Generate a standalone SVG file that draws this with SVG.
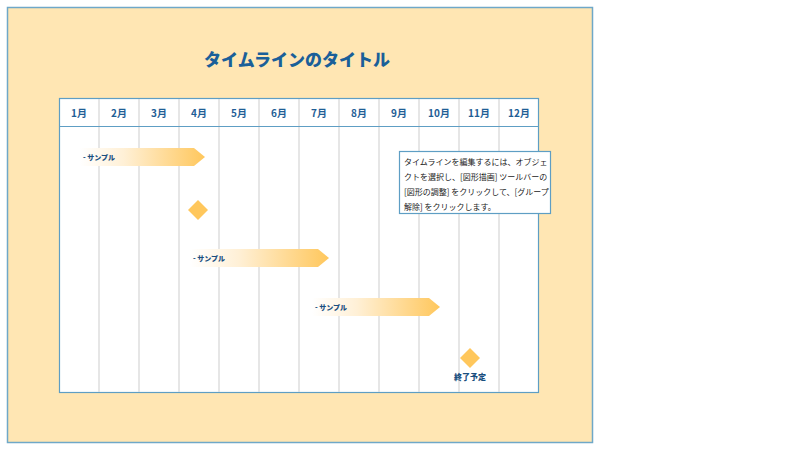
<svg xmlns="http://www.w3.org/2000/svg" width="796" height="450" viewBox="0 0 796 450">
<defs>
<linearGradient id="barg" x1="0" y1="0" x2="1" y2="0">
<stop offset="0" stop-color="#FFFFFF"/>
<stop offset="0.35" stop-color="#FFF0D6"/>
<stop offset="1" stop-color="#FFC75C"/>
</linearGradient>
<style>
.mon{font-family:"Noto Sans CJK JP","Liberation Sans",sans-serif;font-size:10px;font-weight:bold;fill:#1F5E96;text-anchor:middle}
.lbl{font-family:"Noto Sans CJK JP","Liberation Sans",sans-serif;font-size:7px;font-weight:900;fill:#1A4F80}
.grid{stroke:#D6D6D6;stroke-width:1.2}
.note{font-family:"Noto Sans CJK JP","Liberation Sans",sans-serif;font-size:8px;fill:#222222}
.dia{fill:#FFC75C}
</style>
</defs>
<rect width="796" height="450" fill="#FFFFFF"/>
<g id="background">
<rect x="7.5" y="7.5" width="585" height="435" fill="#FFE6B3" stroke="#6FA8C8" stroke-width="1.5"/>
</g>
<g id="title">
<text x="297" y="66" font-family="Noto Sans CJK JP,Liberation Sans,sans-serif" font-size="17" font-weight="900" fill="#1A5F99" text-anchor="middle">タイムラインのタイトル</text>
</g>
<g id="chart">
<rect x="59.5" y="98.5" width="479" height="294" fill="#FFFFFF" stroke="#5E9EC4" stroke-width="1.2"/>
<g class="grid">
<line x1="99" y1="99" x2="99" y2="392"/>
<line x1="139" y1="99" x2="139" y2="392"/>
<line x1="179" y1="99" x2="179" y2="392"/>
<line x1="219" y1="99" x2="219" y2="392"/>
<line x1="259" y1="99" x2="259" y2="392"/>
<line x1="299" y1="99" x2="299" y2="392"/>
<line x1="339" y1="99" x2="339" y2="392"/>
<line x1="379" y1="99" x2="379" y2="392"/>
<line x1="419" y1="99" x2="419" y2="392"/>
<line x1="459" y1="99" x2="459" y2="392"/>
<line x1="499" y1="99" x2="499" y2="392"/>
</g>
<line x1="59.5" y1="126.5" x2="538.5" y2="126.5" stroke="#5E9EC4" stroke-width="1.2"/>
<text class="mon" x="79" y="117">1月</text>
<text class="mon" x="119" y="117">2月</text>
<text class="mon" x="159" y="117">3月</text>
<text class="mon" x="199" y="117">4月</text>
<text class="mon" x="239" y="117">5月</text>
<text class="mon" x="279" y="117">6月</text>
<text class="mon" x="319" y="117">7月</text>
<text class="mon" x="359" y="117">8月</text>
<text class="mon" x="399" y="117">9月</text>
<text class="mon" x="439" y="117">10月</text>
<text class="mon" x="479" y="117">11月</text>
<text class="mon" x="519" y="117">12月</text>
</g>
<g id="bar1">
<polygon points="80,148 194,148 205,157 194,166 80,166" fill="url(#barg)"/>
<text class="lbl" x="83" y="160">- サンプル</text>
</g>
<g id="milestone1">
<polygon class="dia" points="198,200 208,210 198,220 188,210"/>
</g>
<g id="bar2">
<polygon points="190,249 318,249 329,258 318,267 190,267" fill="url(#barg)"/>
<text class="lbl" x="193" y="261">- サンプル</text>
</g>
<g id="bar3">
<polygon points="312,298 429,298 440,307 429,316 312,316" fill="url(#barg)"/>
<text class="lbl" x="315" y="310">- サンプル</text>
</g>
<g id="milestone2">
<polygon class="dia" points="470,348 480,358 470,368 460,358"/>
<text x="470" y="380" font-family="Noto Sans CJK JP,Liberation Sans,sans-serif" font-size="8" font-weight="900" fill="#1A4F80" text-anchor="middle">終了予定</text>
</g>
<g id="note">
<rect x="399.5" y="151.5" width="151" height="62" fill="#FFFFFF" stroke="#5E9EC4" stroke-width="1.2"/>
<text class="note" x="404" y="165">タイムラインを編集するには、オブジェ</text>
<text class="note" x="404" y="180">クトを選択し、[図形描画] ツールバーの</text>
<text class="note" x="404" y="195">[図形の調整] をクリックして、[グループ</text>
<text class="note" x="404" y="210">解除] をクリックします。</text>
</g>
</svg>
